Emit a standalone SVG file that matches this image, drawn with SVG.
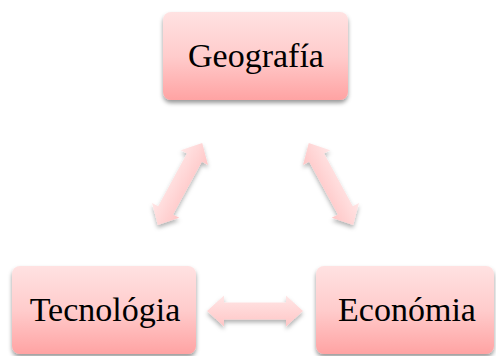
<svg xmlns="http://www.w3.org/2000/svg" width="496" height="356" viewBox="0 0 496 356">
  <style>
    .box { fill: url(#boxGrad); filter: url(#shadow); }
    .label { font-size: 34px; fill: #000; text-anchor: middle; }
    .arrow { fill: url(#arrowGrad); }
    .arrowWrap { filter: url(#ashadow); }
  </style>
  <defs>
    <linearGradient id="boxGrad" x1="0" y1="0" x2="0" y2="1">
      <stop offset="0" stop-color="#ffe2e2"/>
      <stop offset="0.5" stop-color="#ffcccc"/>
      <stop offset="1" stop-color="#ffa3a3"/>
    </linearGradient>
    <linearGradient id="arrowGrad" x1="0" y1="0" x2="0" y2="1">
      <stop offset="0" stop-color="#ffe6e6"/>
      <stop offset="1" stop-color="#ffc6c6"/>
    </linearGradient>
    <filter id="shadow" x="-10%" y="-10%" width="120%" height="130%">
      <feDropShadow dx="0" dy="3" stdDeviation="2" flood-color="#000" flood-opacity="0.4"/>
    </filter>
    <filter id="ashadow" x="-20%" y="-20%" width="140%" height="150%">
      <feDropShadow dx="0" dy="3" stdDeviation="2" flood-color="#000" flood-opacity="0.3"/>
    </filter>
    <path id="dblArrow" d="M-48,0 L-31,-15.5 L-31,-8.5 L31,-8.5 L31,-15.5 L48,0 L31,15.5 L31,8.5 L-31,8.5 L-31,15.5 Z"/>
  </defs>

  <g id="connectors">
    <g class="arrowWrap"><use href="#dblArrow" class="arrow" transform="translate(180,184) rotate(-61.5) scale(0.97,1)"/></g>
    <g class="arrowWrap"><use href="#dblArrow" class="arrow" transform="translate(331,184) rotate(61.5) scale(0.97,1)"/></g>
    <g class="arrowWrap"><use href="#dblArrow" class="arrow" transform="translate(255,311)"/></g>
  </g>

  <g id="node-geografia">
    <rect class="box" x="163" y="12" width="185" height="88" rx="8" ry="8"/>
    <text class="label" font-family="'Liberation Serif', 'Times New Roman', serif" x="256" y="67">Geografía</text>
  </g>
  <g id="node-tecnologia">
    <rect class="box" x="12" y="266" width="184" height="88" rx="8" ry="8"/>
    <text class="label" font-family="'Liberation Serif', 'Times New Roman', serif" x="105" y="321">Tecnológia</text>
  </g>
  <g id="node-economia">
    <rect class="box" x="316" y="266" width="178" height="88" rx="8" ry="8"/>
    <text class="label" font-family="'Liberation Serif', 'Times New Roman', serif" x="407" y="321">Económia</text>
  </g>
</svg>
